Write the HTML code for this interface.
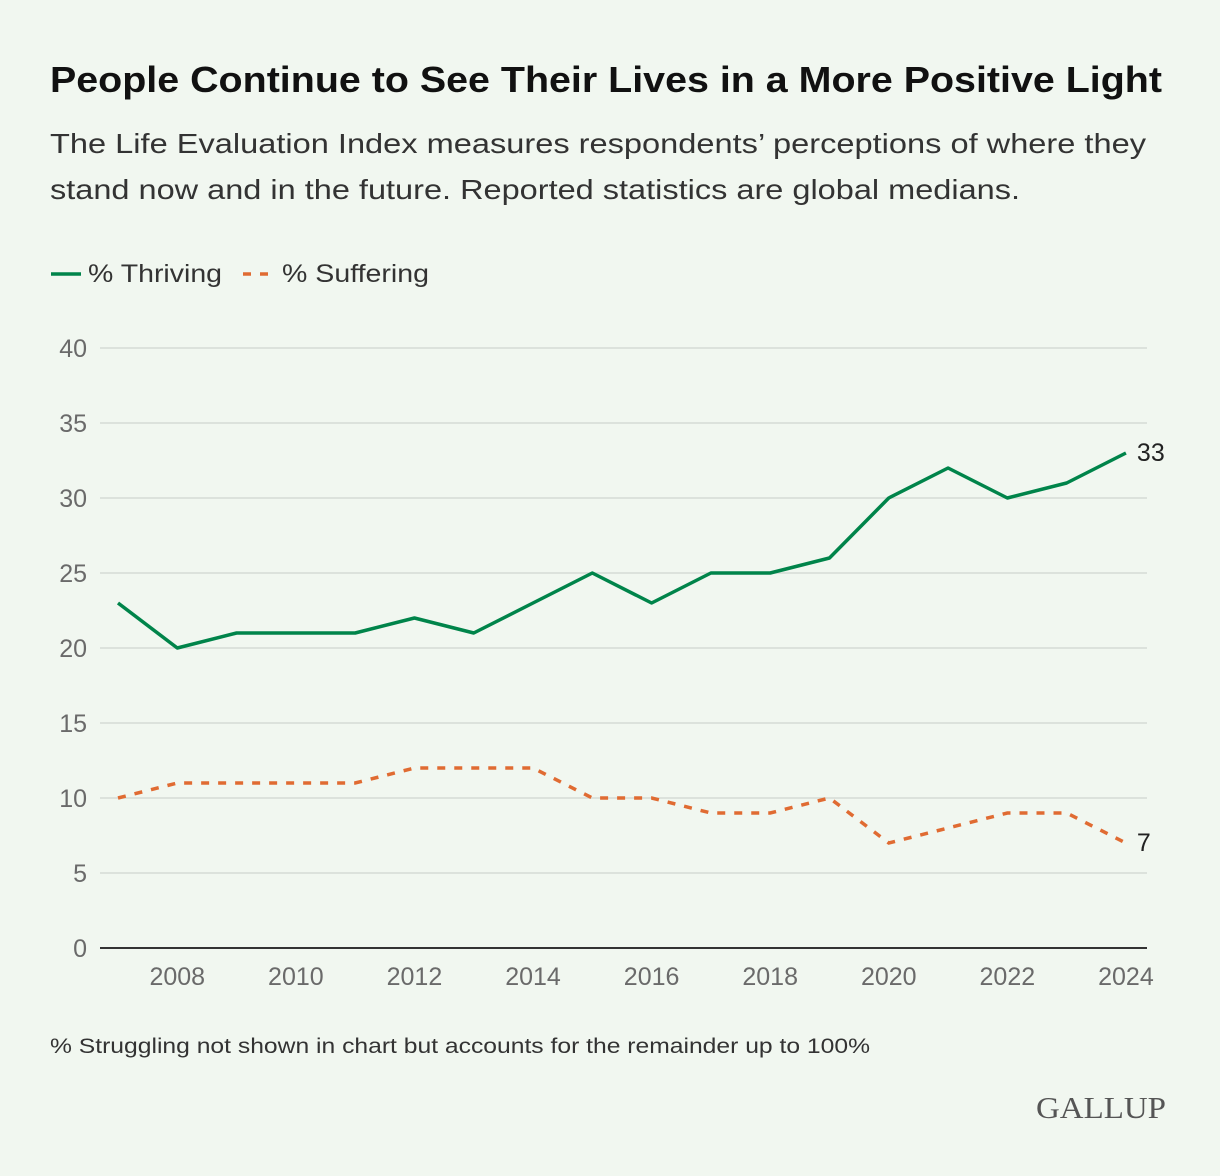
<!DOCTYPE html>
<html><head><meta charset="utf-8"><style>
body{margin:0;background:#f1f7f0;}
svg{display:block;font-family:"Liberation Sans",sans-serif;}
</style></head><body>
<svg id="chart" width="1220" height="1176" viewBox="0 0 1220 1176">
<rect width="1220" height="1176" fill="#f1f7f0"/>
<text x="50" y="92" font-size="36" font-weight="bold" fill="#111" textLength="1112" lengthAdjust="spacingAndGlyphs">People Continue to See Their Lives in a More Positive Light</text>
<text x="50" y="153" font-size="28" fill="#333" textLength="1096" lengthAdjust="spacingAndGlyphs">The Life Evaluation Index measures respondents’ perceptions of where they</text>
<text x="50" y="199" font-size="28" fill="#333" textLength="970" lengthAdjust="spacingAndGlyphs">stand now and in the future. Reported statistics are global medians.</text>
<g>
<line x1="51" y1="274" x2="81" y2="274" stroke="#00844a" stroke-width="3.5"/>
<text x="88" y="282" font-size="25" fill="#333" textLength="134" lengthAdjust="spacingAndGlyphs">% Thriving</text>
<line x1="243" y1="274" x2="272" y2="274" stroke="#e06b32" stroke-width="3.5" stroke-dasharray="8,9"/>
<text x="282" y="282" font-size="25" fill="#333" textLength="147" lengthAdjust="spacingAndGlyphs">% Suffering</text>
</g>
<g id="grid"></g><g id="series"></g>
<text x="50" y="1053" font-size="21" fill="#333" textLength="820" lengthAdjust="spacingAndGlyphs">% Struggling not shown in chart but accounts for the remainder up to 100%</text>
<text x="1166" y="1118" font-size="31" fill="#555" text-anchor="end" font-family="Liberation Serif, serif" textLength="130" lengthAdjust="spacingAndGlyphs">GALLUP</text>
</svg>
<script>
const years=[2007,2008,2009,2010,2011,2012,2013,2014,2015,2016,2017,2018,2019,2020,2021,2022,2023,2024];
const thriving=[23,20,21,21,21,22,21,23,25,23,25,25,26,30,32,30,31,33];
const suffering=[10,11,11,11,11,12,12,12,10,10,9,9,10,7,8,9,9,7];
const yTicks=[0,5,10,15,20,25,30,35,40];
const xTicks=[2008,2010,2012,2014,2016,2018,2020,2022,2024];
const NS='http://www.w3.org/2000/svg';
const x=v=>118+(v-2007)*59.29;
const y=v=>948-v*15;
const grid=document.getElementById('grid'),ser=document.getElementById('series');
function mk(tag,attrs,parent){const e=document.createElementNS(NS,tag);for(const k in attrs)e.setAttribute(k,attrs[k]);parent.appendChild(e);return e;}
yTicks.forEach(t=>{
  const l=mk('line',{x1:100,x2:1147,y1:y(t),y2:y(t),stroke:t===0?'#333':'#d6dcd5','stroke-width':t===0?2:1.5},grid);
  
  
  const tx=mk('text',{x:87,y:y(t)+9,'font-size':25,fill:'#6a6a6a','text-anchor':'end'},grid);
  tx.textContent=t;
  
  
});
xTicks.forEach(t=>{
  const tx=mk('text',{x:x(t),y:985,'font-size':25,fill:'#6a6a6a','text-anchor':'middle'},grid);
  tx.textContent=t;
  
  
});
const p1=mk('polyline',{points:years.map((yr,i)=>x(yr)+','+y(thriving[i])).join(' '),fill:'none',stroke:'#00844a','stroke-width':3.5,'stroke-linejoin':'round'},ser);


const p2=mk('polyline',{points:years.map((yr,i)=>x(yr)+','+y(suffering[i])).join(' '),fill:'none',stroke:'#e06b32','stroke-width':3.5,'stroke-dasharray':'8,9'},ser);


const n=years.length-1;
const l1=mk('text',{x:x(years[n])+11,y:y(thriving[n])+8,'font-size':25,fill:'#222'},ser);
l1.textContent=thriving[n];


const l2=mk('text',{x:x(years[n])+11,y:y(suffering[n])+8,'font-size':25,fill:'#222'},ser);
l2.textContent=suffering[n];


</script>
</body></html>
